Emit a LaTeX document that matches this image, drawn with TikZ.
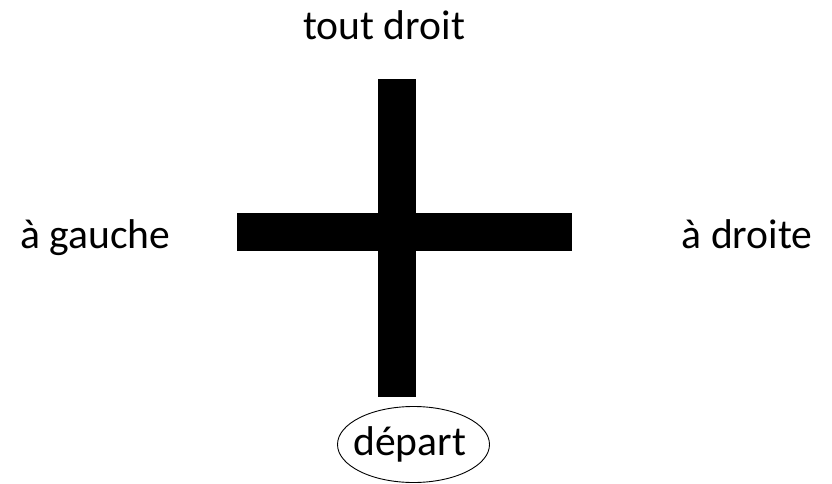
\documentclass[tikz,border=0pt]{standalone}
\usepackage{fontspec}
\setmainfont{Carlito}
\usetikzlibrary{shapes.geometric}
\begin{document}
\begin{tikzpicture}[x=1pt,y=-1pt,
  lbl/.style={anchor=base west,inner sep=0pt,font=\fontsize{41.6}{50}\selectfont},
  bar/.style={fill=black,draw=none}]
\useasboundingbox (0,0) rectangle (832,484);
\fill[white] (0,0) rectangle (832,484);
% cross
\path[bar] (378.3,79) rectangle (416,396.7);
\path[bar] (237,212.7) rectangle (572.3,250.7);
% labels
\node[lbl] (tout) at (303,40) {tout droit};
\node[lbl] (gauche) at (20,248) {à gauche};
\node[lbl] (droite) at (681.5,248) {à droite};
% start
\node[ellipse,draw=black,line width=0.9pt,minimum width=152pt,minimum height=76pt,inner sep=0pt] (ell) at (413.5,444.5) {};
\node[lbl] (depart) at (353,455) {départ};
\end{tikzpicture}
\end{document}
